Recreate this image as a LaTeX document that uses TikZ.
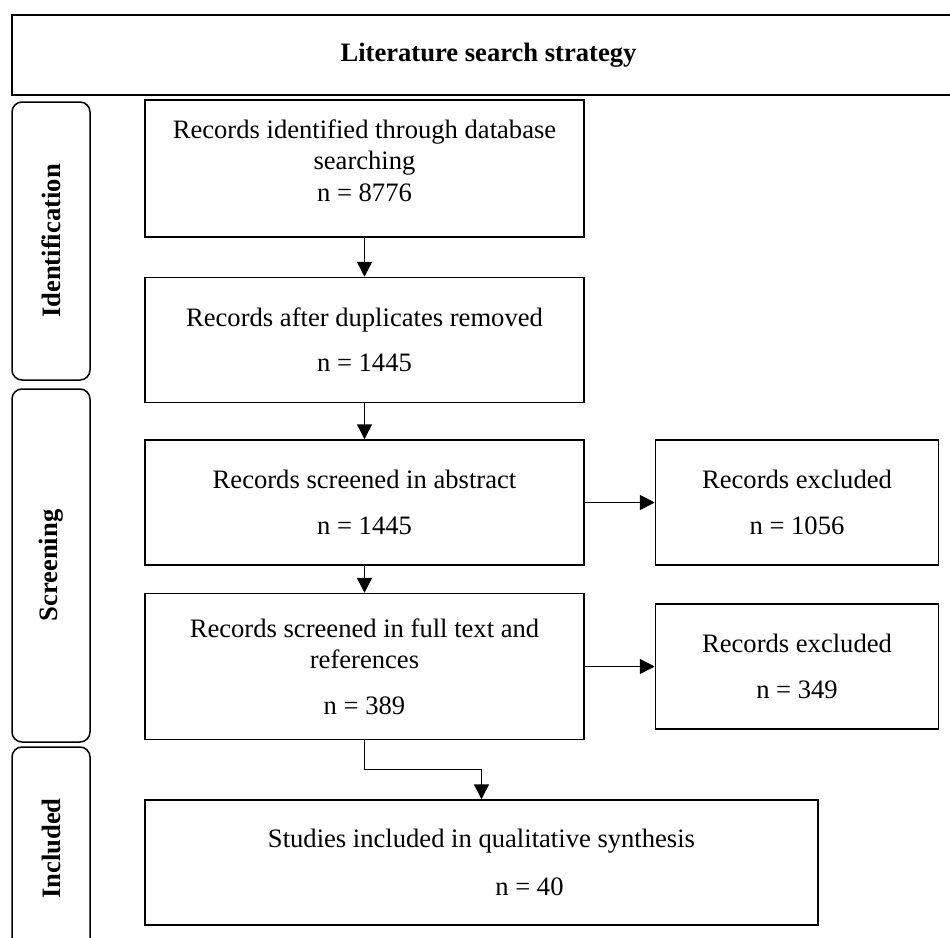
\documentclass[tikz,border=0pt]{standalone}
\usepackage{fontspec}
\setmainfont{Liberation Serif}
\usetikzlibrary{arrows.meta,positioning}

\begin{document}
\begin{tikzpicture}[x=0.5pt,y=-0.5pt,>={Triangle[length=7.5pt,width=7.5pt]},
  line width=0.75pt,
  main box/.style={draw,rectangle,inner sep=0pt,align=center,
    minimum width=219.5pt,minimum height=62.5pt,font=\fontsize{13.3}{15.7}\selectfont},
  excl box/.style={main box,minimum width=141.5pt},
  side box/.style={draw,rectangle,rounded corners=5pt,rotate=90,inner sep=0pt,
    minimum height=39pt,font=\fontsize{13.3}{15.7}\selectfont\bfseries},
  title box/.style={draw,rectangle,line width=0.9pt,minimum width=476.5pt,
    minimum height=40pt,font=\fontsize{13.3}{15.7}\selectfont\bfseries}]

 \useasboundingbox (0,0) rectangle (950,938);
 \clip (0,0) rectangle (950,938);

 % heading and stage labels
 \node[title box] (title) at (488.5,55) {Literature search strategy};
 \node[side box, minimum width=139pt] (ident) at (51,241) {Identification};
 \node[side box, minimum width=176.5pt] (screen) at (51,565.5) {Screening};
 \node[side box, minimum width=101.5pt] (incl) at (51,848.5) {Included};

 % flow boxes
 \node[main box, minimum height=68.5pt] (db) at (364.5,168.5)
   {Records identified through database\\ searching\\ n = 8776\\[-7.7pt]\mbox{}};
 \node[main box] (dup) [below=19.5pt of db] {Records after duplicates removed\\[7pt] n = 1445};
 \node[main box] (abs) [below=18pt of dup] {Records screened in abstract\\[7pt] n = 1445};
 \node[main box, minimum height=73pt] (full) [below=13.5pt of abs]
   {Records screened in full text and\\ references\\[7pt] n = 389};
 \node[excl box] (exabs) [right=35pt of abs] {Records excluded\\[7pt] n = 1056};
 \node[excl box] (exfull) [right=35pt of full] {Records excluded\\[7pt] n = 349};
 \node[main box, minimum width=336.5pt] (syn) [below=29.5pt of full.south west, anchor=north west]
   {Studies included in qualitative synthesis\\[8pt]\hspace*{48pt}n = 40};

 \path[->]
    (db)   edge (dup)
    (dup)  edge (abs)
    (abs)  edge (full)
    (abs)  edge (exabs)
    (full) edge (exfull);
 \draw[->] (full.south) -- ++(0,29) -| (syn.north);

\end{tikzpicture}
\end{document}
